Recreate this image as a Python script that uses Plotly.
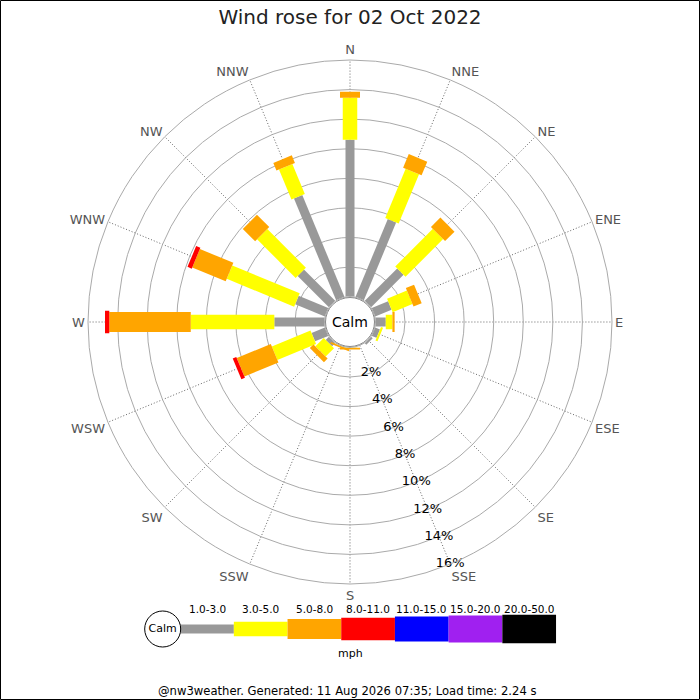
import plotly.graph_objects as go

# ---------------- data ----------------
directions = ["N", "NNE", "NE", "ENE", "E", "ESE", "SE", "SSE",
              "S", "SSW", "SW", "WSW", "W", "WNW", "NW", "NNW"]
angles = [0, 22.5, 45, 67.5, 90, 112.5, 135, 157.5,
          180, 202.5, 225, 247.5, 270, 292.5, 315, 337.5]

speed_bins = ["1.0-3.0", "3.0-5.0", "5.0-8.0", "8.0-11.0",
              "11.0-15.0", "15.0-20.0", "20.0-50.0"]
bin_colors = ["#999999", "#ffff00", "#ffa500", "#ff0000",
              "#0000ff", "#a020f0", "#000000"]

# percentage of time per direction for each speed bin (mph)
pct_1_3 = [10.6, 5.7, 3.1, 1.2, 0.7, 0.35, 0.15, 0.0,
           0.0, 0.0, 0.3, 0.97, 3.4, 2.17, 2.99, 7.45]
pct_3_5 = [2.85, 3.6, 3.6, 1.45, 0.45, 0.15, 0.0, 0.0,
           0.02, 0.02, 0.8, 2.83, 5.65, 4.93, 3.69, 2.2]
pct_5_8 = [0.4, 1.0, 0.9, 0.6, 0.15, 0.0, 0.0, 0.0,
           0.12, 0.12, 0.35, 2.49, 5.51, 2.45, 1.18, 0.55]
pct_8_11 = [0.0, 0.0, 0.0, 0.0, 0.0, 0.0, 0.0, 0.0,
            0.0, 0.0, 0.0, 0.26, 0.29, 0.31, 0.0, 0.0]
pct_11_15 = [0.0] * 16
pct_15_20 = [0.0] * 16
pct_20_50 = [0.0] * 16

radial_ticks = [2, 4, 6, 8, 10, 12, 14, 16]
radial_labels = ["2%", "4%", "6%", "8%", "10%", "12%", "14%", "16%"]

title_text = "Wind rose for 02 Oct 2022"
footer_text = "@nw3weather. Generated: 11 Aug 2026 07:35; Load time: 2.24 s"

# ---------------- styling ----------------
bar_px = [9, 14.5, 20, 22.5, 25, 27, 28.5]   # thickness of each band in px
FONT = "DejaVu Sans"
W = H = 700
cx, cy, R = 350, 322, 262        # polar centre / outer radius in px
hole_px = 25.4

series = [pct_1_3, pct_3_5, pct_5_8, pct_8_11, pct_11_15, pct_15_20, pct_20_50]

fig = go.Figure()

# ---- rose bands ----
cum = [0.0] * 16
for k, vals in enumerate(series):
    rr, tt = [], []
    for i, v in enumerate(vals):
        if v > 0:
            rr += [cum[i], cum[i] + v, None]
            tt += [angles[i], angles[i], None]
        cum[i] += v
    if rr:
        fig.add_trace(go.Scatterpolar(
            r=rr, theta=tt, mode="lines", connectgaps=False,
            line=dict(color=bin_colors[k], width=bar_px[k]),
            hoverinfo="skip", showlegend=False, cliponaxis=False))

# ---- percentage labels along SSE ----
fig.add_trace(go.Scatterpolar(
    r=radial_ticks, theta=[157.5] * len(radial_ticks), mode="text",
    text=radial_labels, textfont=dict(family=FONT, size=13, color="#000"),
    textposition="middle center", showlegend=False, cliponaxis=False,
    hoverinfo="skip"))

# ---- legend key (bars under the rose) ----
xs = list(range(len(speed_bins)))
fig.add_trace(go.Bar(
    x=xs, y=bar_px, base=[-h / 2 for h in bar_px], width=1,
    marker=dict(color=bin_colors, line=dict(width=0)),
    xaxis="x", yaxis="y", showlegend=False, hoverinfo="skip"))
fig.add_trace(go.Scatter(
    x=[-0.825], y=[0], mode="markers+text", text=["Calm"],
    textposition="middle center",
    textfont=dict(family=FONT, size=11, color="#000"),
    marker=dict(size=36, color="white", line=dict(color="#000", width=1)),
    showlegend=False, hoverinfo="skip"))

annotations = []
for i, lab in enumerate(speed_bins):
    annotations.append(dict(x=i, y=20, xref="x", yref="y", text=lab,
                            showarrow=False, yanchor="middle",
                            font=dict(family=FONT, size=10.5, color="#000")))
annotations.append(dict(x=0.5, y=1 - 653 / H, xref="paper", yref="paper",
                        text="mph", showarrow=False, yanchor="middle",
                        font=dict(family=FONT, size=11, color="#000")))
annotations.append(dict(x=0.496, y=1 - 691 / H, xref="paper", yref="paper",
                        text=footer_text, showarrow=False, yanchor="middle",
                        font=dict(family=FONT, size=11.6, color="#000")))
annotations.append(dict(x=cx / W, y=1 - cy / H, xref="paper", yref="paper",
                        text="Calm", showarrow=False, yanchor="middle",
                        font=dict(family=FONT, size=14, color="#000")))

shapes = [
    dict(type="circle", xref="paper", yref="paper",
         x0=(cx - 24.5) / W, x1=(cx + 24.5) / W,
         y0=1 - (cy + 24.5) / H, y1=1 - (cy - 24.5) / H,
         line=dict(color="#888", width=1), fillcolor="white", layer="above"),
    dict(type="rect", xref="paper", yref="paper",
         x0=0.5 / W, x1=699.5 / W, y0=0.5 / H, y1=699.5 / H,
         line=dict(color="#000", width=1), layer="above"),
]

fig.update_layout(
    width=W, height=H, margin=dict(l=0, r=0, t=0, b=0),
    paper_bgcolor="white", plot_bgcolor="white",
    font=dict(family=FONT),
    title=dict(text=title_text, x=0.5, xanchor="center",
               y=1 - 17 / H, yanchor="middle",
               font=dict(family=FONT, size=20, color="#222")),
    polar=dict(
        domain=dict(x=[(cx - R) / W, (cx + R) / W],
                    y=[1 - (cy + R) / H, 1 - (cy - R) / H]),
        hole=hole_px / R,
        bgcolor="white",
        radialaxis=dict(range=[0, 16], tickvals=radial_ticks[:-1],
                        showticklabels=False, ticks="", showline=False,
                        gridcolor="#aaaaaa", gridwidth=1),
        angularaxis=dict(direction="clockwise", rotation=90,
                         tickmode="array", tickvals=angles, ticktext=directions,
                         ticks="", showline=True, linecolor="#aaaaaa",
                         linewidth=1, gridcolor="#666666", gridwidth=1,
                         griddash="1px,2px",
                         tickfont=dict(family=FONT, size=13, color="#555"))),
    xaxis=dict(domain=[0, 1], range=[-3.855, 9.181], visible=False,
               fixedrange=True),
    yaxis=dict(domain=[0.05, 0.15], range=[-36, 34], visible=False,
               fixedrange=True),
    annotations=annotations, shapes=shapes, showlegend=False,
)

fig.write_html("out.html", config={"displayModeBar": False},
               post_script="document.body.style.margin='0';")
